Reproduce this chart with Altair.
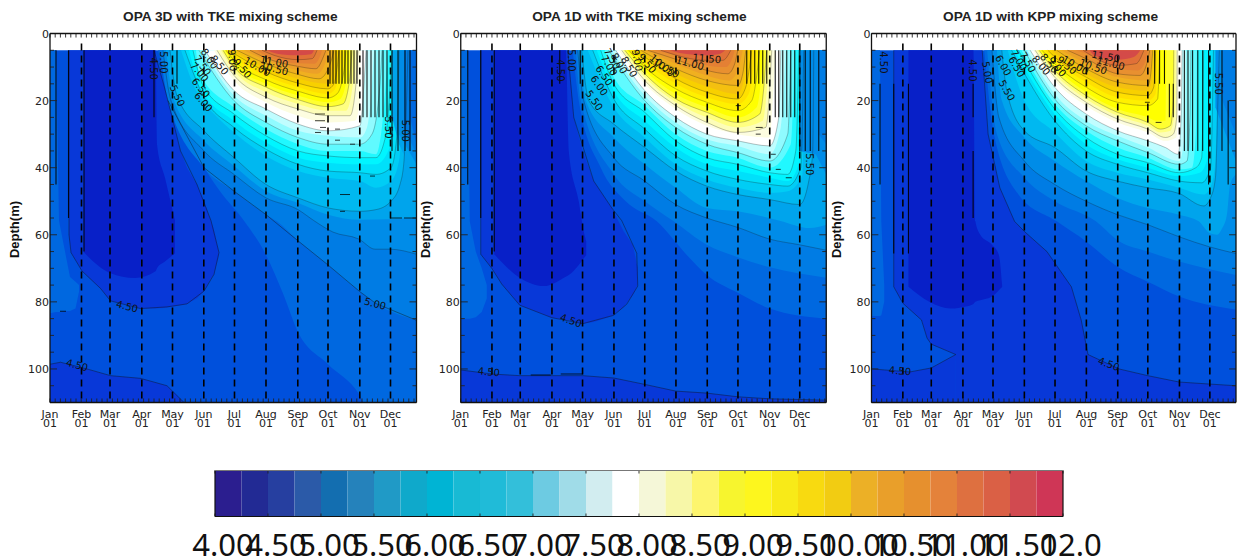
import altair as alt
import pandas as pd

TITLES = ["OPA 3D with TKE mixing scheme", "OPA 1D with TKE mixing scheme", "OPA 1D with KPP mixing scheme"]
MONTHS = ["Jan", "Feb", "Mar", "Apr", "May", "Jun", "Jul", "Aug", "Sep", "Oct", "Nov", "Dec"]
DEPTH_TICKS = [0, 20, 40, 60, 80, 100]
# month positions along each panel's time axis
M1 = [0, 31.5, 60, 91.8, 122.5, 153.8, 184.5, 216, 247.8, 278, 309.8, 340.5]
M2 = [0, 31.2, 59.5, 91.2, 121.8, 153.2, 184, 215.2, 246.5, 277.2, 309, 339]
M3 = [0, 32, 61, 93.3, 124, 156, 187.3, 219.3, 251.3, 282, 314.3, 345.3]
WIDTHS = [366.5, 365.5, 372]
DOMAINS = [366.5, 366.5, 372]
PIXELS = [366.5, 366.5, 364.5]
TITLE_X = [180.3, 178.7, 179]

FIELD = {4.0: '#0820c8', 4.25: '#0838d8', 4.5: '#0050dc', 4.75: '#0068e0', 5.0: '#007ce4', 5.25: '#008ce8',
         5.5: '#00a4ec', 5.75: '#00b8f0', 6.0: '#00cdf5', 6.25: '#00e0fa', 6.5: '#00f5ff', 6.75: '#20f8ff',
         7.0: '#60faff', 7.25: '#90fbff', 7.5: '#c0fdff', 7.75: '#ffffff', 8.0: '#fdfde0', 8.25: '#fdfdb8',
         8.5: '#ffff80', 8.75: '#ffff30', 9.0: '#ffff00', 9.25: '#fff000', 9.5: '#ffe000', 9.75: '#f8d000',
         10.0: '#f4c010', 10.25: '#f0b020', 10.5: '#eca028', 10.75: '#e89030', 11.0: '#e48034', 11.25: '#e07038',
         11.5: '#d44a48'}
BAR = ['#2b1e8f', '#222a94', '#263fa0', '#2b5aa8', '#136eb0', '#2582bb', '#209ac6', '#0fa9cb',
       '#00b4d4', '#18bad4', '#20bbd8', '#33bfda', '#6dcbe2', '#a0dce8', '#d2edf0', '#ffffff',
       '#f5f7d8', '#f7f7a8', '#fdf56e', '#f7f52e', '#fdf61e', '#f8ea18', '#f8da10', '#f2cc12',
       '#ecb026', '#e99f2a', '#e6902e', '#e4823a', '#de7040', '#da6045', '#d14a50', '#cf3656']
BAR_LABELS = ["4.00", "4.50", "5.00", "5.50", "6.00", "6.50", "7.00", "7.50", "8.00", "8.50", "9.00", "9.50",
              "10.00", "10.50", "11.00", "11.50", "12.0"]
LINE_LEVELS = [5.25, 5.75, 6.25, 6.75, 7.25, 7.75, 8.25, 8.75, 9.25, 9.75, 10.25, 10.75, 11.25]

# isotherm depth (x along time axis, depth in m)
P1 = {
 4.75: [(108,5),(118,15),(135,30),(150,38),(170,47),(194,55.8),(216,66),(233,77.5),(248,89),(278,98.6),(309,107.5),(314,110),(366.5,110)],
 5.0: [(110,5),(118,20),(154,40),(184,47),(216,54),(227,56),(248,61.8),(278,69),(310,77),(326,80.5),(366.5,85.5)],
 5.25: [(113,5),(121,20),(154,35),(184,42),(216,49),(248,52.5),(264,55.8),(283,59.2),(309,61.3),(325,64.3),(340,64.3),(366.5,65.8)],
 5.5: [(116,5),(124,20),(154,32),(184,39.5),(216,47),(248,50.5),(278,54),(310,55.5),(366.5,55)],
 5.75: [(120,5),(127,18.6),(154,29),(184,37),(216,45),(248,49),(278,52),(310,53),(326,52.5),(341,50),(350,45),(354,38),(358,5)],
 6.0: [(131,5),(143,15),(153,20.5),(164,24),(184,29.5),(216,36.5),(248,41),(278,43),(310,44),(326,46),(341,44),(349,38),(352,25),(354,5)],
 6.25: [(135,5),(153,18.5),(184,28),(216,34.5),(248,39),(278,41),(310,41.5),(326,42),(341,40),(347,30),(349,5)],
 6.5: [(139,5),(150.5,16.3),(184,26),(216,32.5),(248,37),(278,38.5),(310,39),(326,39),(341,33),(345,5)],
 6.75: [(143,5),(153,15.5),(184,24),(216,30.5),(248,35),(278,36.5),(310,37),(326,37),(336,30),(342,5)],
 7.0: [(146,5),(149,11.6),(184,22),(216,28.5),(248,33),(278,35),(310,35),(326,36),(333,25),(338,5)],
 7.25: [(149,5),(184,20),(216,26.5),(248,31),(278,33),(310,33),(322,30),(330,15),(332,5)],
 7.5: [(153,5),(184,18.5),(216,24.5),(248,29),(278,30.5),(310,31),(317,28),(322,15),(324,5)],
 7.75: [(155,5),(184,17),(216,22.5),(248,27),(278,29),(310,27.5),(314,15),(316,5)],
 8.0: [(164,5),(184,14),(216,20.5),(248,24.5),(278,26.5),(305,26),(310,20),(310.5,5)],
 8.25: [(167,5),(184,12.5),(216,19),(248,22.5),(278,24.5),(300,24.5),(306,15),(308,5)],
 8.5: [(171,5),(184,11),(216,17.5),(248,21),(278,23),(296,23),(303,15),(305,5)],
 8.75: [(173,5),(184,10),(216,16),(248,19.7),(278,21.8),(293,21),(299,15),(302,5)],
 9.0: [(175,5),(184,9),(216,15),(248,18.5),(278,20.5),(290,19.6),(297,13),(299,5)],
 9.25: [(176,5),(184,8),(216,13.8),(248,17.2),(278,19.2),(287,18),(294,11),(296,5)],
 9.5: [(177,5),(184,7),(216,12.6),(248,16),(278,18),(285,16.6),(290,10),(292,5)],
 9.75: [(178,5),(184,6),(216,11.4),(248,14.8),(278,16.5),(284,15),(288,8),(289,5)],
 10.0: [(181,5),(216,10.2),(248,13.5),(278,15),(284,9),(286,5)],
 10.25: [(187,5),(216,9),(248,12.2),(269,13.5),(279,10),(284,5)],
 10.5: [(194,5),(216,8),(248,11),(267,12),(277,7.5),(279,5)],
 10.75: [(200,5),(216,7.3),(248,9.8),(266,10.5),(274,6.5),(276,5)],
 11.0: [(207,5),(216,6.6),(248,8.9),(264,9),(271,6),(272,5)],
 11.25: [(212,5),(224,6.5),(248,7.8),(262,7.5),(267,5)],
 11.5: [(217,5),(227,6),(248,6.5),(261,6.2),(264,5)],
}
P2 = {
 4.75: [(112,5),(118,20),(140,40),(165,50),(196,56),(226,66),(246,72),(277,77.3),(309,82),(365.5,85)],
 5.0: [(115,5),(120,20),(153,42),(184,50),(213,56),(246,63),(277,66.7),(309,69.7),(365.5,72.8)],
 5.25: [(117,5),(123,20),(153,37),(184,44),(215,51),(246,55),(277,57.8),(309,61.3),(339,63),(365.5,64.6)],
 5.5: [(119,5),(125,20),(153,31),(184,39),(215,46),(246,52),(277,53),(319,55.8),(349,58),(365.5,57)],
 5.75: [(121,5),(128,20),(153,27),(184,34),(215,41),(246,45.5),(277,48),(309,49.5),(339,51),(348,44),(352,35),(353,5)],
 6.0: [(127,5),(153,22),(184,31),(215,39),(246,43.5),(277,46),(309,47.5),(327,47),(342,42),(344,5)],
 6.25: [(132,5),(153,19.5),(184,28.5),(215,36.5),(246,41),(277,43.5),(309,45),(327,45.5),(340,40),(343,5)],
 6.5: [(136,5),(153,17),(184,26),(215,34),(246,39),(277,41),(309,43),(327,44),(339,38),(341,5)],
 6.75: [(140,5),(153,15),(184,23.5),(215,32),(246,37),(277,39),(309,41.5),(327,42),(335,35),(338,5)],
 7.0: [(144,5),(153,13),(184,21.5),(215,30),(246,35),(277,37),(309,40),(330,33),(334,5)],
 7.25: [(148,5),(184,20),(215,28),(246,33),(277,35.5),(309,38),(327,30),(330,5)],
 7.5: [(151,5),(184,18.5),(215,26.5),(246,31.5),(277,33.5),(309,36),(320,28),(325,5)],
 7.75: [(155,5),(184,17),(215,25),(246,30),(277,32),(309,33.5),(318,25),(320,5)],
 8.0: [(158,5),(184,15),(215,22.5),(246,27.5),(277,30),(309,31),(313,15),(315,5)],
 8.25: [(161,5),(184,14),(215,21.5),(246,26.5),(277,29.5),(305,28),(311,5)],
 8.5: [(162,5),(184,13),(215,20.5),(246,25),(277,28),(302,26),(309,5)],
 8.75: [(164,5),(184,12),(215,19.5),(246,23.5),(277,26.5),(299,24),(306,5)],
 9.0: [(166,5),(184,11),(215,18),(246,22),(277,25),(296,22),(303,5)],
 9.25: [(168,5),(184,10),(215,16.5),(246,20.5),(277,23),(291,20),(299,5)],
 9.5: [(170,5),(184,8.5),(215,15),(246,19),(277,21),(288,18),(295,5)],
 9.75: [(173,5),(184,7),(215,13.5),(246,17.5),(277,19.5),(285,16),(291,5)],
 10.0: [(176,5),(215,12),(246,15.8),(277,18),(283,14),(287,5)],
 10.25: [(180,5),(215,10.5),(246,14),(277,15.5),(282,12),(285,5)],
 10.5: [(184,5),(215,9),(246,12.5),(268,14),(277,11),(282,5)],
 10.75: [(187,5),(215,7.7),(246,11),(267,12),(274,9),(277,5)],
 11.0: [(192,5),(215,6.5),(246,9.5),(265,10),(272,7),(274,5)],
 11.25: [(200,5),(246,8),(262,8),(270,5)],
 11.5: [(209,5),(219,5.8),(246,6.5),(259.5,6),(264.5,5)],
}
P3 = {
 4.75: [(115,5),(125,30),(150,48),(189,56),(219,62),(251,69.5),(282,74),(314,78.4),(372,82.3)],
 5.0: [(118,5),(128,30),(156,43),(187,50),(229,56),(251,61.6),(282,65),(314,68),(372,72)],
 5.25: [(123,5),(130,25),(156,38),(187,45),(219,50),(251,54),(282,57),(314,60.6),(345,63.6),(372,65.6)],
 5.5: [(128,5),(133,20),(156,31),(187,38),(219,44),(251,49),(282,52),(314,54),(334,56),(345,59.5),(352.7,60),(358,58),(362.7,54),(366,45),(372,42)],
 5.75: [(133,5),(138,17),(156,29),(187,34),(219,41),(251,44),(282,46),(314,47.7),(339,51.4),(346,49),(351,43),(354,15),(355,5)],
 6.0: [(139,5),(156,20),(187,29.5),(219,38),(251,41.5),(282,43.5),(314,46),(339,48),(347,45),(351,38),(353,5)],
 6.25: [(143,5),(187,26),(219,35),(251,39),(282,41.5),(314,44),(337,44.5),(346,40),(349,5)],
 6.5: [(146,5),(187,24),(219,33),(251,37.5),(282,40),(314,42.5),(335,41.5),(343,37),(345,5)],
 6.75: [(150,5),(187,22.5),(219,31),(251,36),(282,38.5),(314,41.5),(331,40),(337,37),(339,5)],
 7.0: [(153,5),(187,21),(219,29),(251,34),(282,37),(314,40.5),(327,40),(331,30),(332,5)],
 7.25: [(156,5),(187,19.5),(219,27.5),(251,32),(282,35.5),(314,39),(322,38),(325,25),(326,5)],
 7.5: [(159,5),(187,18),(219,26),(251,30.5),(282,34),(314,38),(318,34),(320,25),(321,5)],
 7.75: [(162,5),(187,16),(219,24),(251,29),(282,32),(300,34),(313,36),(316,25),(317,5)],
 8.0: [(165,5),(187,14),(219,21.5),(251,26.5),(282,29.5),(300,32),(311,31),(313,20),(313.5,5)],
 8.25: [(167,5),(187,13),(219,20.5),(251,25.5),(282,28.5),(300,31),(308,30),(311.5,25),(312,5)],
 8.5: [(169,5),(187,12),(219,19.5),(251,24.5),(282,27.5),(295,29.5),(305,29),(310,22),(310.5,5)],
 8.75: [(171,5),(187,11),(219,18.5),(251,23.5),(282,26.5),(295,28.5),(305,27.5),(308,20),(308.5,5)],
 9.0: [(172,5),(187,10),(219,17.5),(251,22.5),(282,25),(290,26),(300,26),(300.5,15),(301,5)],
 9.25: [(174,5),(187,9),(219,16),(251,20.5),(282,21.5),(292,19.5),(294,5)],
 9.5: [(177,5),(187,8),(219,14.5),(251,19),(282,20),(290,18),(292,5)],
 9.75: [(180,5),(187,7),(219,13),(251,17.5),(282,18.5),(288,16),(290,5)],
 10.0: [(184,5),(219,12),(251,16),(282,17),(286,14),(288,5)],
 10.25: [(189,5),(219,10.5),(251,14.5),(282,15.5),(285,12),(287,5)],
 10.5: [(194,5),(219,9),(251,13),(282,14),(284.5,10),(286,5)],
 10.75: [(200,5),(219,7.5),(251,12),(274,12.5),(281,9),(284,5)],
 11.0: [(208,5),(219,6),(251,10.5),(272,11),(280,8),(282,5)],
 11.25: [(216,5),(251,9.5),(270,9),(278,5)],
 11.5: [(222.7,5),(227.7,6.6),(251,7.8),(267.7,7),(274.3,5)],
}
C1 = [
 (4.75, [(0,5,83.4),(6,5,83),(9,55.8,83),(15,65,82.7),(20,72.6,82.7),(25.5,74,82),(29,75,77)]),
 (4.25, [(19,5,60),(21,5,65.3),(32,5,70.8),(50.5,5,76),(60.5,5,79.7),(90.5,5,82),(104,5,82),(113.5,15,81.8),(120.5,23,81.5),(130.5,35,81),(137,40,80.6),(147,45,78.9),(154,50,76.8),(161,55.8,73),(164,58.5,71.8),(169,65.3,66)]),
 (4.25, [(0,98.6,110),(10.5,98,110),(37,100,110),(60.5,102,110),(90.5,102.8,110),(117,105,110),(134,110,110)]),
 (4.0, [(34,5,65.3),(60,5,71.4),(85,5,72.9),(105.5,5,70.9),(107,33,70),(115,43,68),(125,55.8,65.5)]),
]
W1 = [
 (5.5, [(342,5,25),(349,5,33),(366.5,5,44)]),
 (5.25, [(349,5,30),(366.5,5,39)]),
 (5.0, [(354,5,28),(366.5,5,36)]),
 (4.75, [(360,5,25),(366.5,5,33)]),
]
C2 = [
 (4.75, [(0,5,85),(7,5,85),(9,56,85),(15,65,84.6),(21,70,83),(26,75,79)]),
 (4.25, [(20,5,65.8),(31,5,70),(41,5,74.7),(59,5,81),(91,5,84.7),(107.5,5,85.5),(113,25,86),(122,35,86.5),(133,44,86),(151,52,84.3),(163,59,81.5),(172,63,78),(177,70,75)]),
 (4.25, [(0,100.3,110),(31,101.5,110),(59,102,110),(122,102,110),(153,102.7,110),(184,104.6,110),(215,106.6,110),(246,107.2,110),(277,108.3,110),(309,108.9,110),(365.5,109.3,110)]),
 (4.0, [(33.5,5,65.8),(59,5,72.8),(83,5,75.3),(105,5,72.5),(108,35,72),(118,50,69),(123,59,67),(125.5,62,66)]),
]
W2 = [
 (5.25, [(339,5,35),(355,5,36),(365.5,5,42)]),
 (5.0, [(358,5,30),(365.5,5,33)]),
]
C3 = [
 (4.75, [(0,5,84.2),(8.7,5,84.2),(10,56,84),(13,75,80)]),
 (4.25, [(22.7,5,75.5),(32,5,80.4),(51,5,85.4),(56.7,5,90.8),(61,5,92.6),(85.9,5,95.7),(86,5,110),(113,5,110),(119,30,110),(131,46,110),(146,56,110),(156,59,110),(179,65,110),(204,75.5,110),(214,85.4,110),(221,95.7,110),(252.7,100,110),(282,102,110),(314,103.9,110),(345,104.5,110),(372,105,110)]),
 (4.25, [(0,100,110),(39,100.9,110),(61,99.7,110),(86,95.7,110)]),
 (4.0, [(37.7,5,75.5),(59,5,80),(81,5,82),(96,5,81.4),(104,5,80.6),(106,56,80),(111,60,79.5),(123,63,78.4),(130,66,76.5),(133.3,75,75.6)]),
]
W3 = [
 (5.25, [(351,5,22),(372,5,38)]),
 (5.0, [(358,5,20),(372,5,30)]),
]
# labelled 4.5 isotherm traces (x, depth)
L1 = [[(19,5),(19,60),(21,65.3),(32,70.8),(50.5,76),(60.5,79.7),(90.5,82),(117,81.5),(137,80.6),(154,76.8),(164,71.8),(169,65.3),(161,55.8),(147,45),(130.5,35),(120.5,23),(113.5,15),(104,5)],
      [(0,98.6),(10.5,98),(37,100),(60.5,102),(90.5,102.8),(117,105),(134,110)],
      [(118,20),(154,40),(184,47),(216,54),(248,61.8),(278,69),(310,77),(326,80.5),(366.5,85.5)]]
L2 = [[(20,5),(20,65.8),(31,70),(41,74.7),(59,81),(91,84.7),(122,86.5),(153,84),(166,80.7),(177,75.3),(176,65.5),(161,55.8),(151,52),(133,44),(113,25),(107,5)],
      [(0,100.3),(31,101.5),(59,102),(122,102),(153,102.7),(184,104.6),(215,106.6),(246,107.2),(277,108.3),(309,108.9),(365.5,109.3)]]
L3 = [[(22.7,5),(22.7,75.5),(32,80.4),(51,85.4),(56.7,90.8),(61,92.6),(86,95.7),(61,99.7),(39,100.9),(1,100)],
      [(113,5),(119,30),(131,46),(146,56),(156,59),(179,65),(204,75.5),(214,85.4),(221,95.7),(252.7,100),(282,102),(314,103.9),(345,104.5),(372,105)]]
# vertical plotting artefacts: (x, upper depth, lower depth)
V1 = [(6,5,45),(18.5,5,55),(34,5,65),(104,5,25),(127,5,15)] + [(x,5,15) for x in (280,283,286,289,292,295,298,301,304,307)] \
   + [(x,5,25) for x in (313,317,321,325,329,333,337)] + [(x,5,35) for x in (342,348,355,360)]
V2 = [(7,5,45),(20,5,55),(33.5,5,65),(99,5,15),(119.5,5,15)] + [(x,5,15) for x in (286,290,294,298,302,306)] \
   + [(x,5,25) for x in (314.5,318,322,326,330,334)] + [(x,5,35) for x in (339,344.5,349.5,358)]
V3 = [(8.7,15,45),(22.7,15,65.6),(37.7,15,65.6),(103.7,15,25),(103.7,35,55)] + [(x,5,15) for x in (289,294,299)] \
   + [(x,15,25) for x in (304,308)] + [(x,5,35) for x in (319.3,323,327.7,333,338)] + [(344,5,45),(357.7,5,35),(364,20,45)]
# short horizontal artefacts: (x start, x end, depth)
H1 = [(265,275,24),(265,275,26),(270,276,28),(265,271,29.5),(285,290,28.5),(285,290,31.8),(300,305,33),(320,325,42.5),(290,300,48),(290,295,53),(340,352,55),(354,366,55),(10,16,82.8)]
H2 = [(295,302,28),(295,300,30),(310,315,36),(315,320,40.5),(325,331,43),(275,280,21.5),(100,122,101.5),(70,90,101.8)]
H3 = [(279,284,20.5),(290,296,26.5)]
# contour labels: text, x, depth, rotation
T1 = [("4.50",103,10.5,90),("5.00",113,8.6,90),("5.50",127,18.6,65),("6.00",153,20.5,50),("6.50",150.5,16.3,50),("7.00",149,11.6,50),("7.50",152,9.6,55),("8.00",159,7.6,55),("8.50",169,9.5,50),("9.00",182,8,85),("9.50",192,10.5,50),("10.00",207,10,30),("10.50",224,10.6,15),("11.00",224,8.6,10),("4.50",77,81.5,15),("4.50",27,99,15),("5.00",325,80.7,15),("5.50",338,28,90),("5.00",355,29,90)]
T2 = [("4.50",99,11,90),("5.00",110,8,90),("5.50",133,20,55),("6.00",138,15.6,55),("6.50",143,12.6,55),("7.00",148,9.6,60),("7.50",151,7.6,60),("8.00",158,9,60),("8.50",168,10,60),("9.00",176,8,80),("9.50",186,9,50),("10.00",201,9.6,40),("10.50",205,10.5,30),("11.00",229,9,15),("11.50",246,7.6,5),("4.50",110,85.7,20),("4.50",28,101,5),("5.50",348.5,39,90)]
T3 = [("4.50",12,8.6,90),("4.50",102.7,11,90),("5.00",117.7,11.6,80),("5.50",137.7,17,60),("6.00",134,9.6,60),("6.50",147.7,10,60),("7.00",150,8,60),("7.50",159,8.6,60),("8.00",172.7,9.6,50),("8.50",181,9,50),("9.00",189,10,50),("9.50",199,9.6,40),("10.00",207.7,9.6,30),("10.50",226,10,20),("11.00",244,9,15),("11.50",239,7,10),("4.50",29,100.7,5),("4.50",242,98.7,20),("5.50",354,15,90)]

SANS = "DejaVu Sans"
BOLD = "Liberation Sans"

def panel(i, warm, cold, wedges, traces, verts, hbits, texts, months):
    w = WIDTHS[i]
    xs = alt.Scale(domain=[0, DOMAINS[i]], nice=False, zero=False)
    ys = alt.Scale(domain=[-0.6, 110], reverse=True, nice=False, zero=False)
    X = alt.X("x:Q", scale=xs, axis=None)
    Y = alt.Y("top:Q", scale=ys, axis=None)
    Y2 = alt.Y2("bot:Q")
    L = []
    def band(pts, color, interp="monotone"):
        d = pd.DataFrame(pts, columns=["x", "top", "bot"])
        return alt.Chart(d).mark_area(color=color, interpolate=interp, clip=True).encode(x=X, y=Y, y2=Y2)
    L.append(band([(0, 5, 110), (w, 5, 110)], FIELD[4.5], "linear"))
    for lev, pts in cold:
        if lev != 4.0:
            L.append(band(pts, FIELD[lev], "linear"))
    for lev, pts in cold:
        if lev == 4.0:
            L.append(band(pts, FIELD[lev]))
    for lev in sorted(warm):
        L.append(band([(a, 5, b) for a, b in warm[lev]], FIELD[lev]))
    for lev, pts in wedges:
        L.append(band(pts, FIELD[lev], "linear"))
    for lev in LINE_LEVELS:
        d = pd.DataFrame(warm[lev], columns=["x", "top"])
        L.append(alt.Chart(d).mark_line(color="#111", strokeWidth=0.6, opacity=0.45, interpolate="monotone", clip=True).encode(x=X, y=Y))
    for tr in traces:
        d = pd.DataFrame(tr, columns=["x", "top"]).reset_index()
        L.append(alt.Chart(d).mark_line(color="#111", strokeWidth=0.6, opacity=0.7, clip=True).encode(x=X, y=Y, order="index:Q"))
    dv = pd.DataFrame(verts, columns=["x", "top", "bot"])
    L.append(alt.Chart(dv).mark_rule(color="#000", strokeWidth=1.1, opacity=0.9).encode(x=X, y=Y, y2=Y2))
    dh = pd.DataFrame(hbits, columns=["x", "x2", "top"])
    L.append(alt.Chart(dh).mark_rule(color="#000", strokeWidth=0.9, opacity=0.85).encode(x=X, x2="x2:Q", y=Y))
    dm = pd.DataFrame({"x": months[1:], "top": [3] * 11, "bot": [110] * 11})
    L.append(alt.Chart(dm).mark_rule(color="#000", strokeWidth=1.6, strokeDash=[7, 5]).encode(x=X, y=Y, y2=Y2))
    # tick marks along the frame
    step = 5.2
    tx = [k * step for k in range(int(w / step) + 1)]
    dt = pd.DataFrame({"x": tx, "top": [0] * len(tx), "bot": [1.2] * len(tx)})
    db = pd.DataFrame({"x": tx, "top": [108.8] * len(tx), "bot": [110] * len(tx)})
    L.append(alt.Chart(dt).mark_rule(color="#222", strokeWidth=0.9).encode(x=X, y=Y, y2=Y2))
    L.append(alt.Chart(db).mark_rule(color="#222", strokeWidth=0.9).encode(x=X, y=Y, y2=Y2))
    yt = []
    for k in range(0, 111, 5):
        ln = 7 if k % 20 == 0 else 4
        yt += [(0, ln, k), (w - ln, w, k)]
    dy = pd.DataFrame(yt, columns=["x", "x2", "top"])
    L.append(alt.Chart(dy).mark_rule(color="#222", strokeWidth=0.9).encode(x=X, x2="x2:Q", y=Y))
    # frame
    fv = pd.DataFrame({"x": [0, w], "top": [0, 0], "bot": [110, 110]})
    fh = pd.DataFrame({"x": [0, 0], "x2": [w, w], "top": [0, 110]})
    L.append(alt.Chart(fv).mark_rule(color="#111", strokeWidth=1.3).encode(x=X, y=Y, y2=Y2))
    L.append(alt.Chart(fh).mark_rule(color="#111", strokeWidth=1.3).encode(x=X, x2="x2:Q", y=Y))
    # contour labels
    dl = pd.DataFrame(texts, columns=["t", "x", "top", "a"])
    L.append(alt.Chart(dl).mark_text(font=SANS, fontSize=10, color="#111").encode(x=X, y=Y, text="t:N", angle=alt.Angle("a:Q", scale=None)))
    # month labels
    dn = pd.DataFrame({"x": months, "t": [m + "\n01" for m in MONTHS]})
    L.append(alt.Chart(dn).mark_text(font=SANS, fontSize=11, color="#222", lineBreak="\n", lineHeight=9, baseline="top").encode(x=X, y=alt.value(377), text="t:N"))
    # depth labels and depth title
    dd = pd.DataFrame({"top": DEPTH_TICKS, "t": [str(v) for v in DEPTH_TICKS]})
    L.append(alt.Chart(dd).mark_text(font=SANS, fontSize=11, color="#222", align="right", dy=1).encode(x=alt.value(-1), y=Y, text="t:N"))
    dY = pd.DataFrame({"t": ["Depth(m)"]})
    L.append(alt.Chart(dY).mark_text(font=BOLD, fontSize=13, fontWeight="bold", color="#111", angle=270).encode(x=alt.value(-35), y=alt.value(198), text="t:N"))
    # title
    dT = pd.DataFrame({"t": [TITLES[i]]})
    L.append(alt.Chart(dT).mark_text(font=BOLD, fontSize=13.7, fontWeight="bold", color="#222").encode(x=alt.value(TITLE_X[i]), y=alt.value(-15), text="t:N"))
    return alt.layer(*L).properties(width=PIXELS[i], height=371)

p1 = panel(0, P1, C1, W1, L1, V1, H1, T1, M1)
p2 = panel(1, P2, C2, W2, L2, V2, H2, T2, M2)
p3 = panel(2, P3, C3, W3, L3, V3, H3, T3, M3)

# colour bar
levels = [4 + 0.25 * k for k in range(33)]
dbar = pd.DataFrame({"a": levels[:-1], "b": levels[1:], "c": BAR})
bx = alt.Scale(domain=[2.4434, 12.8208], nice=False, zero=False)
BX = alt.X("a:Q", scale=bx, axis=None)
bar_rect = alt.Chart(dbar).mark_rect().encode(x=BX, x2="b:Q", y=alt.value(0), y2=alt.value(46), color=alt.Color("c:N", scale=None))
ticks = pd.DataFrame({"a": levels[::2], "t": BAR_LABELS})
t_top = alt.Chart(ticks).mark_rule(color="#222", strokeWidth=0.9).encode(x=BX, y=alt.value(0), y2=alt.value(3))
t_bot = alt.Chart(ticks).mark_rule(color="#222", strokeWidth=0.9).encode(x=BX, y=alt.value(43), y2=alt.value(46))
edges = pd.DataFrame({"a": [4, 12]})
e_v = alt.Chart(edges).mark_rule(color="#111", strokeWidth=1.2).encode(x=BX, y=alt.value(0), y2=alt.value(46))
hl = pd.DataFrame({"a": [4], "b": [12]})
e_t = alt.Chart(hl).mark_rule(color="#777", strokeWidth=1.2).encode(x=BX, x2="b:Q", y=alt.value(0))
e_b = alt.Chart(hl).mark_rule(color="#111", strokeWidth=1.2).encode(x=BX, x2="b:Q", y=alt.value(46))
t_lab = alt.Chart(ticks).mark_text(font="Noto Sans", fontSize=31, color="#111", dx=8).encode(x=BX, y=alt.value(76), text="t:N")
bar = alt.layer(bar_rect, t_top, t_bot, e_v, e_t, e_b, t_lab).properties(width=1100, height=46)

top = alt.hconcat(p1, p2, p3).properties(bounds="flush", spacing=43.75)
chart = alt.vconcat(top, bar).properties(bounds="flush", spacing=439, padding={"left": 1, "top": 1.5, "right": 0, "bottom": 0}).configure_view(stroke=None)
chart.save("out.html", embed_options={"renderer": "svg", "actions": False})
